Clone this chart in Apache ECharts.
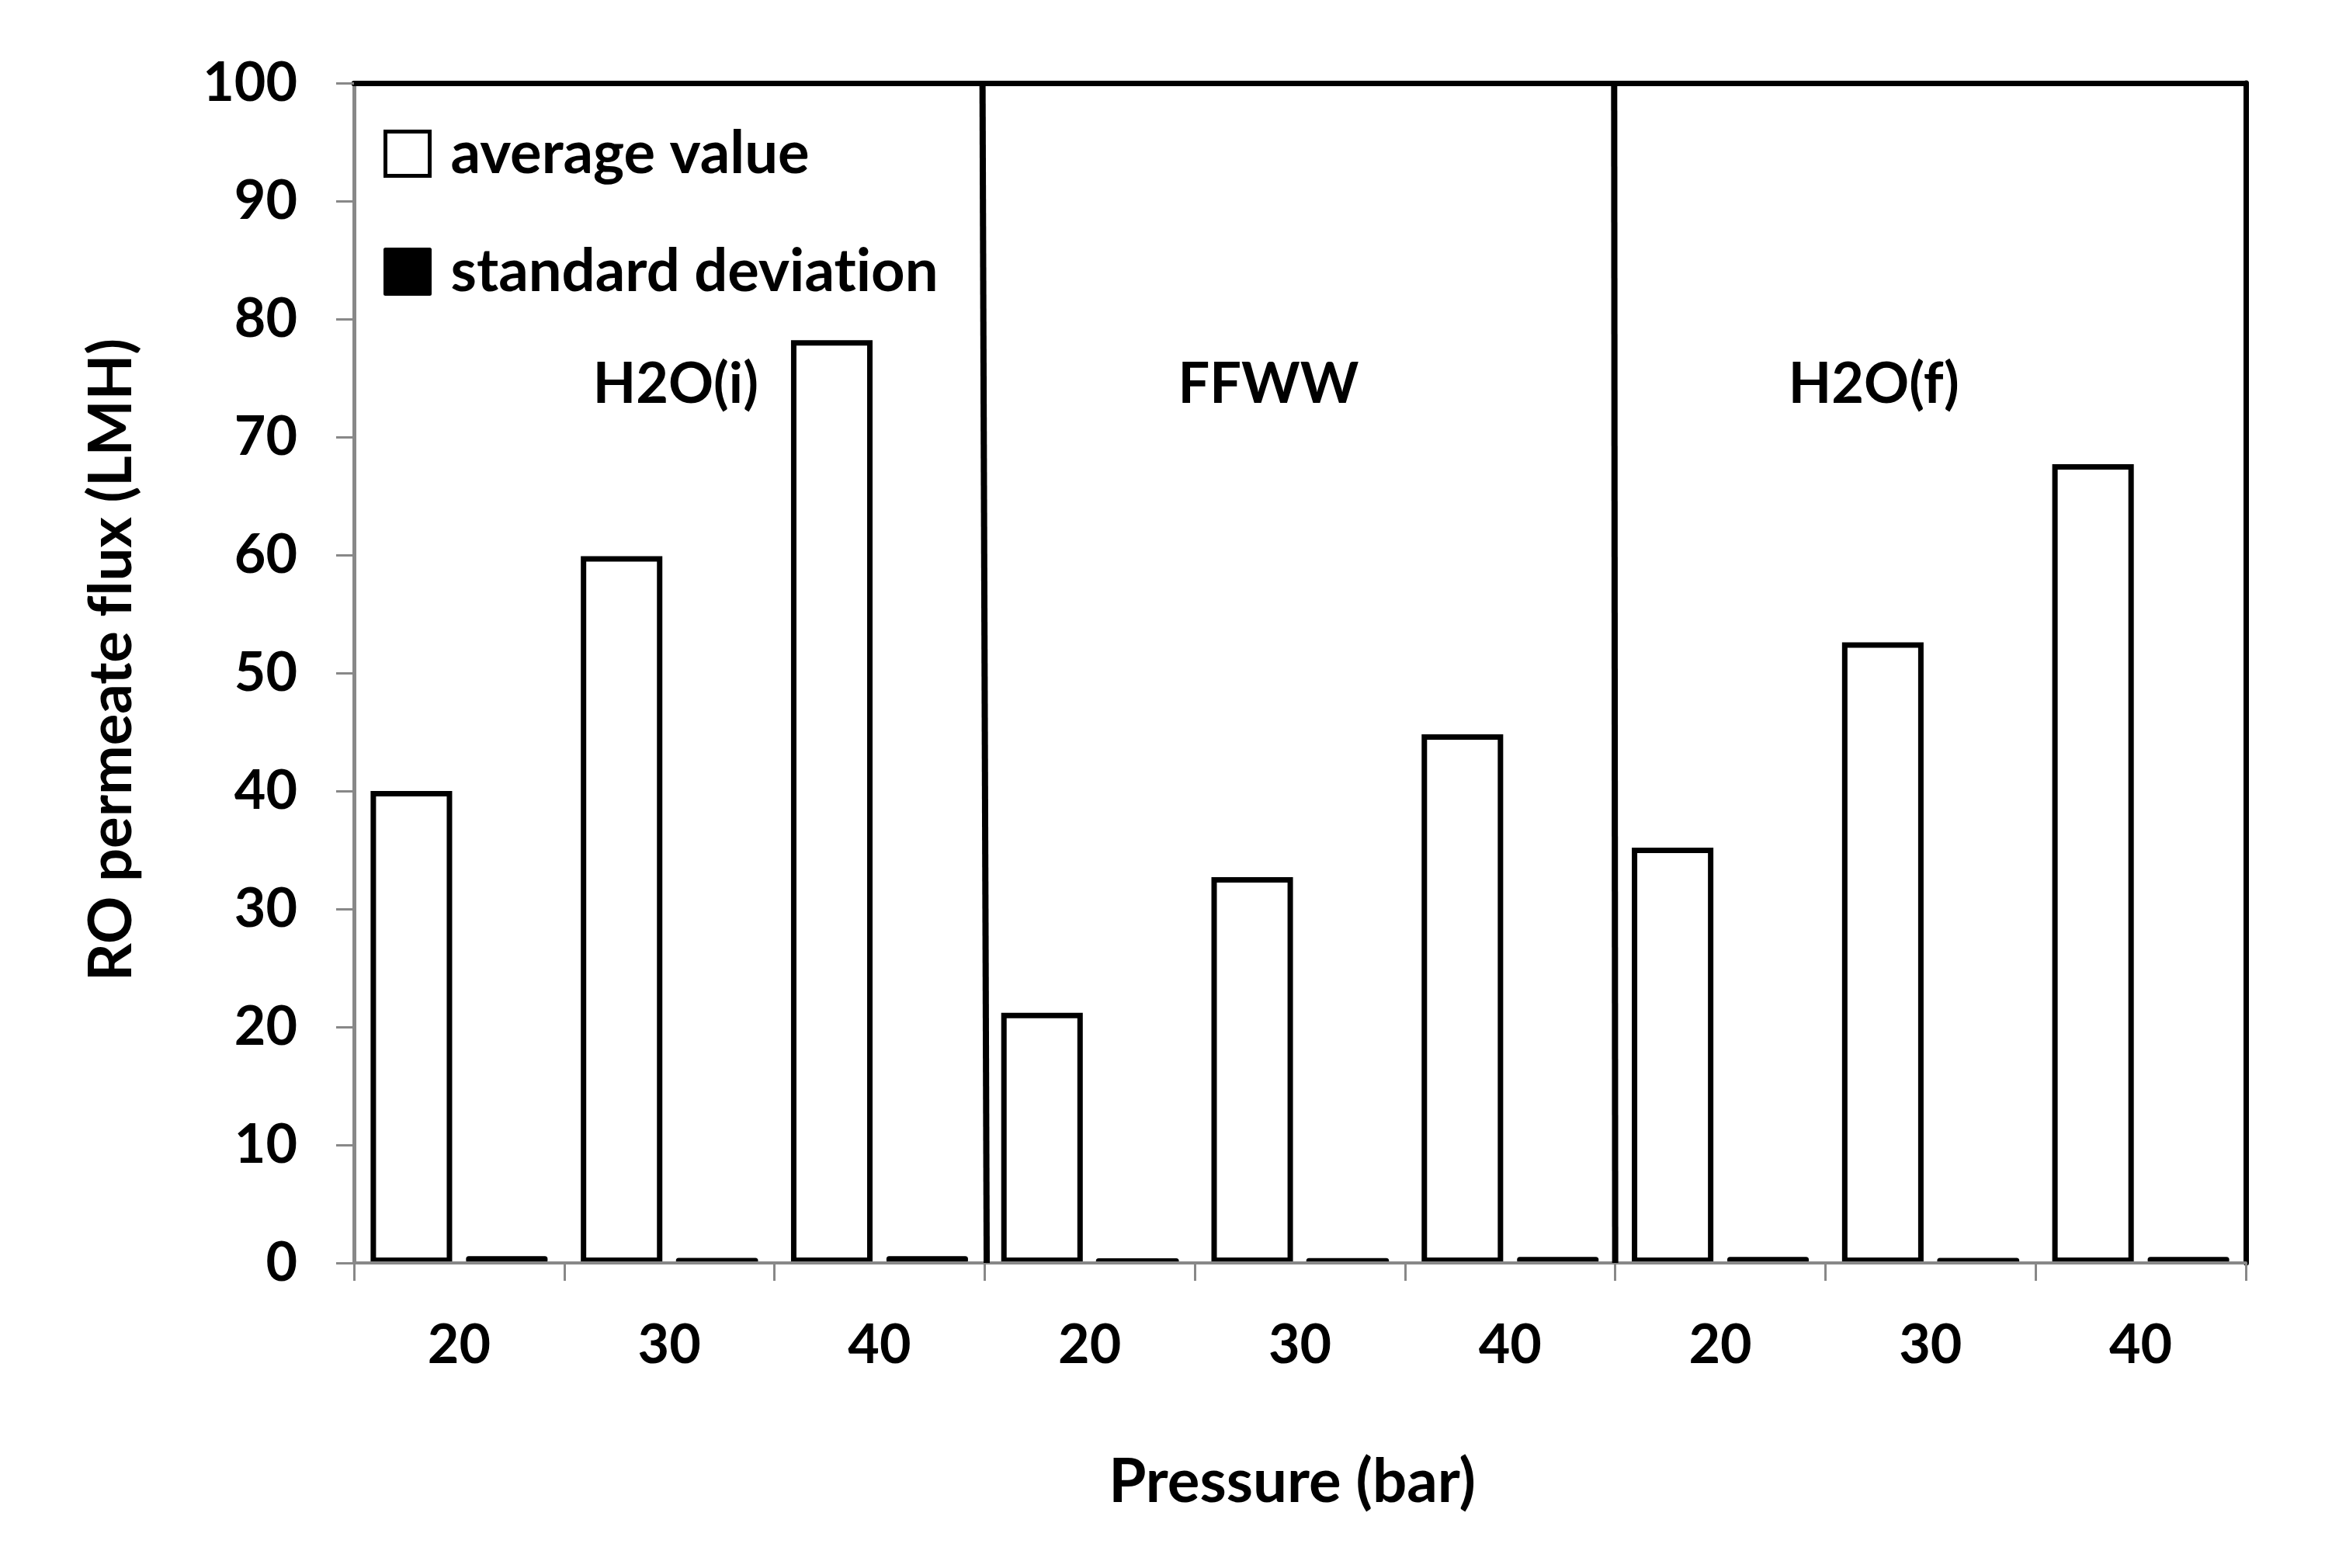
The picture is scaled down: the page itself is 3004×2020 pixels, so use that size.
<!DOCTYPE html>
<html>
<head>
<meta charset="utf-8">
<script src="https://cdn.jsdelivr.net/npm/echarts@6/dist/echarts.min.js"></script>
<style>
html,body{margin:0;padding:0;background:#fff;}
#chart{width:3004px;height:2020px;}
</style>
</head>
<body>
<div id="chart"></div>
<script>
// ---- data ----
const groups = ['H2O(i)', 'FFWW', 'H2O(f)'];
const pressures = ['20', '30', '40'];
const averageValue = [40.0, 59.9, 78.2, 21.2, 32.7, 44.8, 35.2, 52.6, 67.7];
const standardDeviation = [0.58, 0.41, 0.58, 0.34, 0.36, 0.51, 0.51, 0.41, 0.51];
const yTicks = [0, 10, 20, 30, 40, 50, 60, 70, 80, 90, 100];
const seriesNames = ['average value', 'standard deviation'];

// ---- derived ----
const categories = [];
groups.forEach(g => pressures.forEach(p => categories.push(g + '|' + p)));

const FONT = 'Lato';
// break the "ti"/"fl" ligatures so the text renders as plain letters
const noLig = s => s.replace(/ti/g, 't\u200Ci').replace(/fl/g, 'f\u200Cl');

const chart = echarts.init(document.getElementById('chart'), null, {renderer: 'canvas'});

// layout constants (not data)
const labelX = [1.53, 4.35, 7.23];
const labelY = 74.4;

const dividerSeries = [1, 2].map(k => ({
  type: 'line',
  xAxisIndex: 1,
  yAxisIndex: 0,
  symbol: 'none',
  silent: true,
  z: 6,
  lineStyle: {color: '#000', width: 8},
  data: [[k * pressures.length - 0.01 + (k === 2 ? 0.005 : 0), 100], [k * pressures.length + (k === 1 ? 0.01 : 0), 0]]
}));

const option = {
  backgroundColor: '#fff',
  animation: false,
  textStyle: {fontFamily: FONT, fontWeight: 'bold', color: '#000'},
  grid: {left: 456, right: 111, top: 107, bottom: 393, containLabel: false},
  legend: {
    left: 494, top: 160, orient: 'vertical', padding: 0,
    itemWidth: 57, itemHeight: 57, itemGap: 76,
    formatter: name => noLig(name),
    textStyle: {fontFamily: FONT, fontWeight: 'bold', fontSize: 76, color: '#000', padding: [0, 0, 0, 22]},
    data: [
      {name: seriesNames[0], icon: 'rect', itemStyle: {color: '#fff', borderColor: '#000', borderWidth: 5}},
      {name: seriesNames[1], icon: 'rect', itemStyle: {color: '#000', borderColor: '#000', borderWidth: 5}}
    ]
  },
  xAxis: [
    {
      type: 'category', data: categories, gridIndex: 0, position: 'bottom', z: 5,
      name: 'Pressure (bar)', nameLocation: 'middle', nameGap: 244,
      nameTextStyle: {fontFamily: FONT, fontWeight: 'bold', fontSize: 78, color: '#000', padding: [0, 20, 0, 0]},
      axisLine: {show: true, lineStyle: {color: '#888', width: 4}},
      axisTick: {show: true, length: 23, lineStyle: {color: '#888', width: 3}},
      axisLabel: {show: true, margin: 71, fontFamily: FONT, fontWeight: 'bold', fontSize: 70, color: '#000',
        formatter: v => v.split('|')[1]},
      splitLine: {show: false}
    },
    {
      type: 'value', gridIndex: 0, position: 'top', min: 0, max: categories.length, z: 5,
      axisLine: {show: true, onZero: false, lineStyle: {color: '#000', width: 7}},
      axisTick: {show: false}, axisLabel: {show: false}, splitLine: {show: false}
    }
  ],
  yAxis: [
    {
      type: 'value', min: 0, max: 100, interval: 10, position: 'left', z: 5,
      name: noLig('RO permeate flux (LMH)'), nameLocation: 'middle', nameGap: 274, nameRotate: 90,
      nameTextStyle: {fontFamily: FONT, fontWeight: 'bold', fontSize: 76, color: '#000', padding: [0, 0, 0, 34]},
      axisLine: {show: true, lineStyle: {color: '#888', width: 5}},
      axisTick: {show: true, length: 23, lineStyle: {color: '#888', width: 3}},
      axisLabel: {show: true, margin: 73, fontFamily: FONT, fontWeight: 'bold', fontSize: 70, color: '#000',
        formatter: v => (yTicks.indexOf(v) >= 0 ? String(v) : '')},
      splitLine: {show: false}
    },
    {
      type: 'value', min: 0, max: 100, position: 'right', z: 5,
      axisLine: {show: true, onZero: false, lineStyle: {color: '#000', width: 7}},
      axisTick: {show: false}, axisLabel: {show: false}, splitLine: {show: false}
    }
  ],
  series: [
    {
      name: seriesNames[0], type: 'bar', xAxisIndex: 0, yAxisIndex: 0,
      barWidth: '38.8%', barGap: '17%',
      itemStyle: {color: '#fff', borderColor: '#000', borderWidth: 7},
      data: averageValue
    },
    {
      name: seriesNames[1], type: 'bar', xAxisIndex: 0, yAxisIndex: 0,
      barWidth: '38.8%', barGap: '17%',
      itemStyle: {color: '#000', borderColor: '#000', borderWidth: 7, borderJoin: 'round'},
      data: standardDeviation
    },
    ...dividerSeries,
    {
      type: 'scatter', xAxisIndex: 1, yAxisIndex: 0, symbolSize: 0, silent: true, z: 7,
      itemStyle: {opacity: 1},
      label: {show: true, position: 'inside', formatter: p => p.data[2], opacity: 1,
        fontFamily: FONT, fontWeight: 'bold', fontSize: 72, color: '#000'},
      data: groups.map((g, i) => [labelX[i], labelY, g])
    }
  ]
};
chart.setOption(option);
</script>
</body>
</html>
